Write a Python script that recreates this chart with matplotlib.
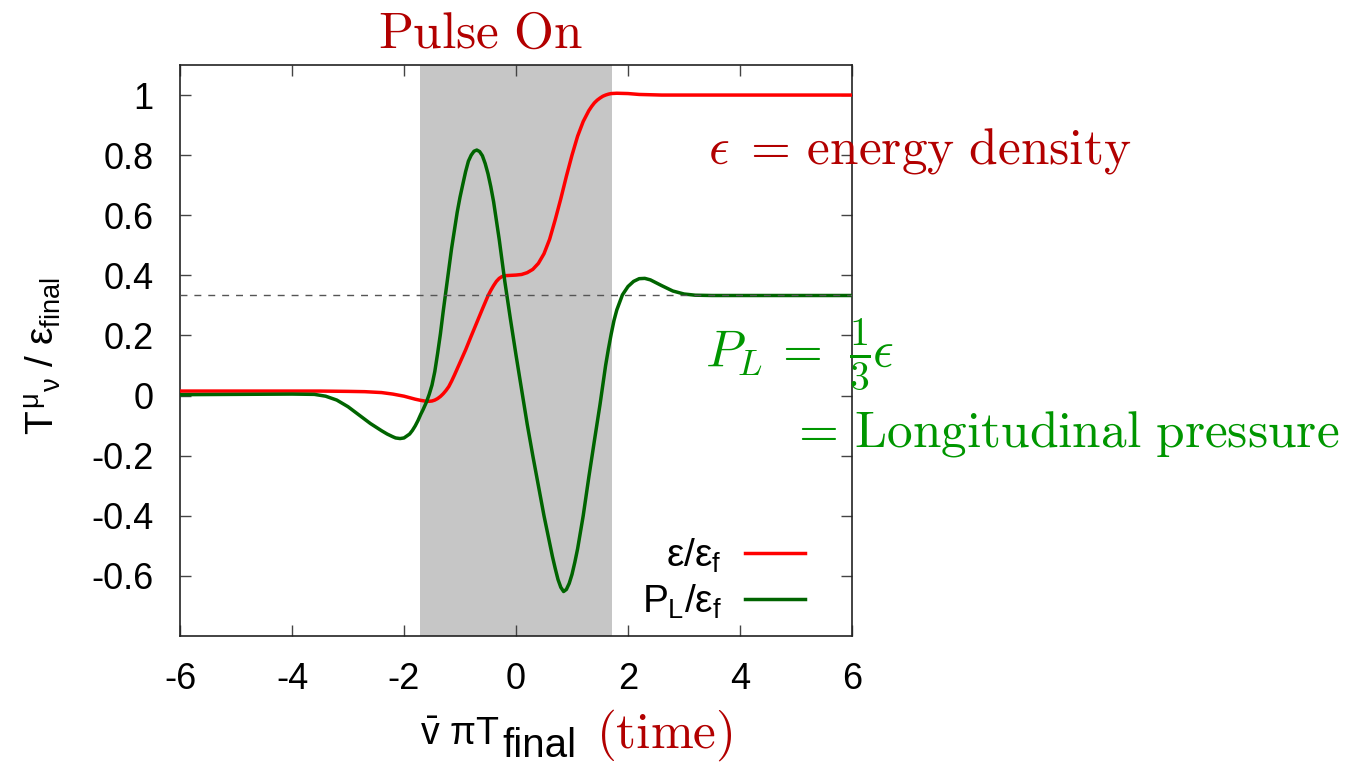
import numpy as np
import matplotlib
matplotlib.use('Agg')
import matplotlib.pyplot as plt

plt.rcParams['font.family'] = ['Liberation Sans', 'DejaVu Sans']
plt.rcParams['mathtext.fontset'] = 'custom'
plt.rcParams['mathtext.rm'] = 'Liberation Sans'
plt.rcParams['mathtext.it'] = 'Liberation Sans'
plt.rcParams['mathtext.sf'] = 'Liberation Sans'
plt.rcParams['axes.unicode_minus'] = False

# %%
# energy density / eps_final
t_eps = [-6.0, -5.0, -4.0, -3.5, -3.0, -2.7, -2.4, -2.2, -2.0, -1.8, -1.7, -1.6,
         -1.55, -1.5, -1.45, -1.4, -1.35, -1.3, -1.25, -1.2, -1.15, -1.1, -1.0,
         -0.9, -0.8, -0.7, -0.6, -0.5, -0.45, -0.4, -0.35, -0.3, -0.25, -0.2,
         -0.1, 0.0, 0.1, 0.2, 0.3, 0.4, 0.5, 0.6, 0.7, 0.8, 0.9, 1.0, 1.1, 1.2,
         1.3, 1.35, 1.4, 1.45, 1.5, 1.55, 1.6, 1.65, 1.7, 1.8, 2.0, 2.2, 2.6, 6.0]
eps = [0.015, 0.015, 0.015, 0.015, 0.014, 0.013, 0.010, 0.005, -0.002, -0.012,
       -0.016, -0.019, -0.019, -0.018, -0.015, -0.010, -0.003, 0.006, 0.017,
       0.030, 0.048, 0.068, 0.110, 0.152, 0.198, 0.243, 0.288, 0.332, 0.350,
       0.366, 0.380, 0.390, 0.396, 0.399, 0.400, 0.401, 0.403, 0.409, 0.420,
       0.440, 0.472, 0.520, 0.585, 0.655, 0.730, 0.800, 0.863, 0.912, 0.948,
       0.962, 0.974, 0.983, 0.990, 0.996, 1.000, 1.003, 1.005, 1.006, 1.005,
       1.002, 1.000, 1.000]

# longitudinal pressure / eps_final
t_pl = [-6.0, -5.0, -4.0, -3.6, -3.4, -3.2, -3.0, -2.8, -2.6, -2.4, -2.3, -2.2,
        -2.15, -2.07, -2.0, -1.9, -1.85, -1.8, -1.75, -1.7, -1.66, -1.6, -1.55,
        -1.5, -1.45, -1.4, -1.35, -1.3, -1.25, -1.2, -1.15, -1.1, -1.05, -1.0,
        -0.95, -0.9, -0.85, -0.8, -0.75, -0.7, -0.65, -0.6, -0.55, -0.5, -0.45,
        -0.4, -0.3, -0.2, -0.1, 0.0, 0.1, 0.2, 0.3, 0.4, 0.5, 0.6, 0.65, 0.7,
        0.75, 0.8, 0.85, 0.9, 0.95, 1.0, 1.05, 1.1, 1.2, 1.3, 1.4, 1.5, 1.6,
        1.65, 1.7, 1.75, 1.8, 1.9, 2.0, 2.1, 2.2, 2.3, 2.4, 2.6, 2.8, 3.0, 3.2,
        3.5, 6.0]
pl = [0.003, 0.004, 0.005, 0.004, -0.002, -0.015, -0.037, -0.065, -0.093,
      -0.117, -0.128, -0.137, -0.141, -0.143, -0.141, -0.128, -0.116, -0.101,
      -0.083, -0.062, -0.047, -0.022, 0.004, 0.035, 0.080, 0.140, 0.205,
      0.280, 0.350, 0.420, 0.490, 0.550, 0.610, 0.660, 0.703, 0.745, 0.780,
      0.800, 0.813, 0.817, 0.812, 0.798, 0.772, 0.738, 0.695, 0.645, 0.520,
      0.380, 0.255, 0.135, 0.020, -0.095, -0.200, -0.300, -0.400, -0.490,
      -0.535, -0.575, -0.612, -0.638, -0.652, -0.645, -0.625, -0.595, -0.555,
      -0.510, -0.400, -0.272, -0.150, -0.030, 0.100, 0.155, 0.205, 0.250,
      0.285, 0.335, 0.363, 0.380, 0.389, 0.390, 0.385, 0.366, 0.348, 0.338,
      0.334, 0.333, 0.333]

pulse_on = (-1.71, 1.71)
pl_conformal = 1 / 3

xticks = [-6, -4, -2, 0, 2, 4, 6]
yticks = [-0.6, -0.4, -0.2, 0, 0.2, 0.4, 0.6, 0.8, 1]
yticklabels = ['-0.6', '-0.4', '-0.2', '0', '0.2', '0.4', '0.6', '0.8', '1']

red_txt = '#b20000'
green_txt = '#009600'

# %%
W, H = 1351, 765
fig = plt.figure(figsize=(W / 100, H / 100), dpi=100)
ax = fig.add_axes([180 / W, 1 - 636 / H, 672 / W, 571 / H])

ax.axvspan(*pulse_on, color='#c6c6c6', lw=0, zorder=0)
ax.plot(t_eps, eps, color='#ff0000', lw=2.5, label=r'$\varepsilon/\varepsilon_f$', zorder=3)
ax.plot(t_pl, pl, color='#006400', lw=2.5, label=r'$P_L/\varepsilon_f$', zorder=4)
ax.axhline(pl_conformal, color='#555555', lw=1.0, ls=(0, (5, 5)), zorder=5)

ax.set_xlim(-6, 6)
ax.set_ylim(-0.8, 1.1)
ax.set_xticks(xticks)
ax.set_xticklabels([str(v) for v in xticks])
ax.set_yticks(yticks)
ax.set_yticklabels(yticklabels)
ax.tick_params(direction='in', length=8, width=1, color='#444444',
               top=True, right=True, labelsize=26)
ax.tick_params(axis='x', pad=19)
ax.tick_params(axis='y', pad=19)
for s in ax.spines.values():
    s.set_linewidth(1.2)
    s.set_color('#222222')

leg = ax.legend(loc='lower right', bbox_to_anchor=((805 - 180) / 672, 0.027),
                frameon=False, markerfirst=False, fontsize=28, borderpad=0,
                handlelength=1.55, handletextpad=0.6, labelspacing=0.2,
                borderaxespad=0)

# axis labels as placed in the original
def fx(px):
    return px / W

def fy(py):
    return 1 - py / H

fig.text(fx(43), fy(356), r'$T^{\mu}{}_{\nu}\ /\ \varepsilon_{final}$',
         rotation=90, ha='center', va='center', fontsize=28)
fig.text(fx(420), fy(745), r'$\bar{v}\ \pi T$', ha='left',
         va='baseline', fontsize=27)
fig.text(fx(502), fy(757), 'final', ha='left', va='baseline', fontsize=29)
fig.text(fx(596), fy(748), r'$\mathrm{(time)}$', ha='left', va='baseline',
         fontsize=37, color=red_txt, math_fontfamily='cm')

# annotations
fig.text(fx(378), fy(48), r'$\mathrm{Pulse\ On}$', ha='left', va='baseline',
         fontsize=37, color=red_txt, math_fontfamily='cm')
fig.text(fx(708), fy(163), r'$\epsilon\;=\,\mathrm{energy\ density}$',
         ha='left', va='baseline', fontsize=37, color=red_txt,
         math_fontfamily='cm')
fig.text(fx(705), fy(367), r'$P_L\,=$', ha='left',
         va='baseline', fontsize=37, color=green_txt, math_fontfamily='cm')
fig.text(fx(849), fy(367), r'$\frac{1}{3}$', ha='left',
         va='baseline', fontsize=41, color=green_txt, math_fontfamily='cm')
fig.text(fx(872), fy(367), r'$\epsilon$', ha='left',
         va='baseline', fontsize=37, color=green_txt, math_fontfamily='cm')
fig.text(fx(789), fy(446), r'$=\,\mathrm{Longitudinal\ pressure}$', ha='left',
         va='baseline', fontsize=37, color=green_txt, math_fontfamily='cm')

fig.savefig('out.png', dpi=100)
